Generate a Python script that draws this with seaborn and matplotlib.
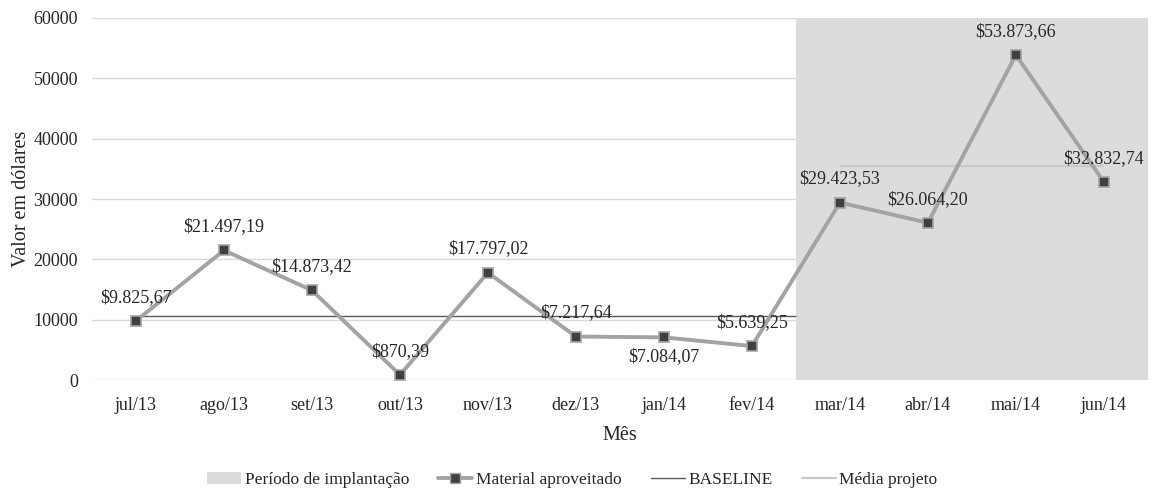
import numpy as np
import pandas as pd
import matplotlib
matplotlib.use("Agg")
import matplotlib.pyplot as plt
import seaborn as sns
from matplotlib.patches import Patch
from matplotlib.lines import Line2D

# Data
meses = ['jul/13', 'ago/13', 'set/13', 'out/13', 'nov/13', 'dez/13',
         'jan/14', 'fev/14', 'mar/14', 'abr/14', 'mai/14', 'jun/14']
valores = [9825.67, 21497.19, 14873.42, 870.39, 17797.02, 7217.64,
           7084.07, 5639.25, 29423.53, 26064.20, 53873.66, 32832.74]
rotulos = ['$9.825,67', '$21.497,19', '$14.873,42', '$870,39', '$17.797,02', '$7.217,64',
           '$7.084,07', '$5.639,25', '$29.423,53', '$26.064,20', '$53.873,66', '$32.832,74']
n_antes = 8  # meses antes da implantação
yticks = [0, 10000, 20000, 30000, 40000, 50000, 60000]

df = pd.DataFrame({'pos': np.arange(len(meses)), 'mes': meses, 'valor': valores})
baseline = np.mean(valores[:n_antes])
media_projeto = np.mean(valores[n_antes:])

sns.set_style("white")
plt.rcParams['font.family'] = ['Liberation Serif', 'DejaVu Serif']

fig = plt.figure(figsize=(11.54, 4.93), dpi=100)
ax = fig.add_axes([0.0797, 0.229, 0.915, 0.7345])

# Shaded implementation period
ax.axvspan(n_antes - 0.5, len(meses) - 0.5, color='#dcdcdc', lw=0, zorder=1)

for y in yticks:
    ax.axhline(y, color='#d9d9d9', lw=1, zorder=0)

ax.hlines(baseline, 0, n_antes - 0.5, color='#595959', lw=1, zorder=2)
ax.hlines(media_projeto, n_antes, len(meses) - 1, color='#c8c8c8', lw=1.6, zorder=2)

sns.lineplot(data=df, x='pos', y='valor', ax=ax, color='#a3a3a3', lw=2.8,
             marker='s', markersize=6.5, markerfacecolor='#404040',
             markeredgecolor='#a3a3a3', markeredgewidth=1.2, zorder=3)

for i, (v, t) in enumerate(zip(valores, rotulos)):
    if meses[i] == 'jan/14':
        ax.annotate(t, (i, v), xytext=(0, -14), textcoords='offset points',
                    ha='center', va='center', fontsize=13, zorder=4)
    else:
        ax.annotate(t, (i, v), xytext=(0, 17), textcoords='offset points',
                    ha='center', va='center', fontsize=13, zorder=4)

ax.set_xlim(-0.5, len(meses) - 0.5)
ax.set_ylim(0, 60000)
ax.set_xticks(df['pos'])
ax.set_xticklabels(meses, fontsize=13)
ax.set_yticks(yticks)
ax.set_yticklabels([str(y) for y in yticks], fontsize=13)
ax.tick_params(axis='x', length=0, pad=12)
ax.tick_params(axis='y', length=0, pad=10)
ax.set_xlabel('Mês', fontsize=14.5, labelpad=9)
ax.set_ylabel('Valor em dólares', fontsize=14.5, labelpad=2)
for s in ax.spines.values():
    s.set_visible(False)

handles = [
    Patch(facecolor='#dcdcdc', edgecolor='none', label='Período de implantação'),
    Line2D([], [], color='#a3a3a3', lw=2.8, marker='s', markersize=6.5,
           markerfacecolor='#404040', markeredgecolor='#a3a3a3', label='Material aproveitado'),
    Line2D([], [], color='#595959', lw=1, label='BASELINE'),
    Line2D([], [], color='#c8c8c8', lw=1.6, label='Média projeto'),
]
fig.legend(handles=handles, loc='center', bbox_to_anchor=(0.496, 0.027), ncol=4,
           frameon=False, fontsize=12.5, handlelength=1.95, columnspacing=1.7,
           handletextpad=0.2)

fig.savefig('out.png', dpi=100)
